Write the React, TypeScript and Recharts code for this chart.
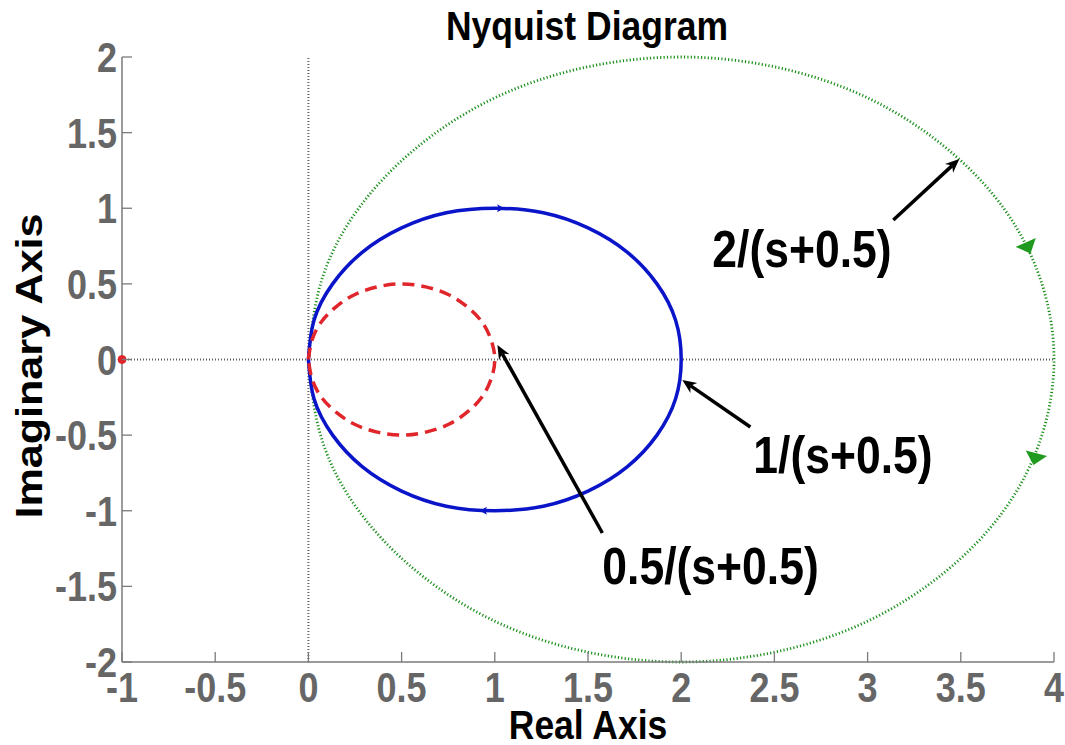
import React from "react";
import {
  LineChart,
  Line,
  XAxis,
  YAxis,
  ReferenceLine,
  ReferenceDot,
  Customized,
} from "recharts";

const X_TICKS = [-1, -0.5, 0, 0.5, 1, 1.5, 2, 2.5, 3, 3.5, 4];
const Y_TICKS = [-2, -1.5, -1, -0.5, 0, 0.5, 1, 1.5, 2];

// points, from w = -inf through w = 0 back to w = +inf
const halfGain = [
  [0, 0], [0.02, 0.13], [0.07, 0.25], [0.15, 0.35], [0.25, 0.43], [0.37, 0.48],
  [0.5, 0.5], [0.63, 0.48], [0.75, 0.43], [0.85, 0.35], [0.93, 0.25], [0.98, 0.13],
  [1, 0], [0.98, -0.13], [0.93, -0.25], [0.85, -0.35], [0.75, -0.43], [0.63, -0.48],
  [0.5, -0.5], [0.37, -0.48], [0.25, -0.43], [0.15, -0.35], [0.07, -0.25], [0.02, -0.13],
  [0, 0],
];

const unitGain = [
  [0, 0], [0.03, 0.26], [0.13, 0.5], [0.29, 0.71], [0.5, 0.87], [0.74, 0.97],
  [1, 1], [1.26, 0.97], [1.5, 0.87], [1.71, 0.71], [1.87, 0.5], [1.97, 0.26],
  [2, 0], [1.97, -0.26], [1.87, -0.5], [1.71, -0.71], [1.5, -0.87], [1.26, -0.97],
  [1, -1], [0.74, -0.97], [0.5, -0.87], [0.29, -0.71], [0.13, -0.5], [0.03, -0.26],
  [0, 0],
];

const doubleGain = [
  [0, 0], [0.07, 0.52], [0.27, 1], [0.59, 1.41], [1, 1.73], [1.48, 1.93],
  [2, 2], [2.52, 1.93], [3, 1.73], [3.41, 1.41], [3.73, 1], [3.93, 0.52],
  [4, 0], [3.93, -0.52], [3.73, -1], [3.41, -1.41], [3, -1.73], [2.52, -1.93],
  [2, -2], [1.48, -1.93], [1, -1.73], [0.59, -1.41], [0.27, -1], [0.07, -0.52],
  [0, 0],
];

const CRITICAL_POINT = { x: -1, y: 0 };

const LABELS = [
  { text: "2/(s+0.5)", x: 2.167, y: 0.612 },
  { text: "1/(s+0.5)", x: 2.387, y: -0.75 },
  { text: "0.5/(s+0.5)", x: 1.577, y: -1.481 },
];

const POINTERS = [
  { from: [3.138, 0.922], to: [3.492, 1.326] },
  { from: [2.371, -0.446], to: [2.006, -0.136] },
  { from: [1.577, -1.147], to: [1.014, 0.096] },
];

const GREEN_MARKS = [
  { from: [3.847, 0.777], to: [3.874, 0.701] },
  { from: [3.906, -0.618], to: [3.89, -0.697] },
];

const BLUE_MARKS = [
  { from: [0.99, 1.0], to: [1.05, 1.0] },
  { from: [0.98, -1.0], to: [0.92, -1.0] },
];

const toPoints = (arr: number[][]) => arr.map(([x, y]) => ({ x, y }));

const FRAME = "#7a7a7a";
const FONT = "'Liberation Sans', Arial, Helvetica, sans-serif";

function StretchText({ x, y, size, fill = "#000", anchor = "middle", sy = 1.15, children }: any) {
  return (
    <text
      transform={`translate(${x},${y}) scale(1,${sy})`}
      textAnchor={anchor}
      fontFamily={FONT}
      fontWeight={700}
      fontSize={size}
      fill={fill}
    >
      {children}
    </text>
  );
}

function BottomTick({ x, y, payload }: any) {
  return (
    <g>
      <line x1={x} y1={y} x2={x} y2={y - 10} stroke={FRAME} strokeWidth={1.3} />
      <StretchText x={x} y={y + 40} size={36} fill="#666" sy={1.17}>
        {payload.value}
      </StretchText>
    </g>
  );
}

function TopTick({ x, y }: any) {
  return <line x1={x} y1={y} x2={x} y2={y + 10} stroke={FRAME} strokeWidth={1.3} />;
}

function LeftTick({ x, y, payload }: any) {
  return (
    <g>
      <line x1={x} y1={y} x2={x + 10} y2={y} stroke={FRAME} strokeWidth={1.3} />
      <StretchText x={x - 5} y={y + 15} size={36} fill="#666" anchor="end" sy={1.17}>
        {payload.value}
      </StretchText>
    </g>
  );
}

function RightTick({ x, y }: any) {
  return <line x1={x} y1={y} x2={x - 10} y2={y} stroke={FRAME} strokeWidth={1.3} />;
}

function arrowShape(color: string, width: number, headLen: number, headHalf: number, withLine: boolean, notch: number) {
  return (props: any) => {
    const { x1, y1, x2, y2 } = props;
    const dx = x2 - x1;
    const dy = y2 - y1;
    const len = Math.hypot(dx, dy) || 1;
    const ux = dx / len;
    const uy = dy / len;
    const bx = x2 - ux * headLen;
    const by = y2 - uy * headLen;
    const nx = x2 - ux * headLen * notch;
    const ny = y2 - uy * headLen * notch;
    const pts = [
      `${x2},${y2}`,
      `${bx - uy * headHalf},${by + ux * headHalf}`,
      `${nx},${ny}`,
      `${bx + uy * headHalf},${by - ux * headHalf}`,
    ].join(" ");
    return (
      <g>
        {withLine && (
          <line x1={x1} y1={y1} x2={nx} y2={ny} stroke={color} strokeWidth={width} />
        )}
        <polygon points={pts} fill={color} />
      </g>
    );
  };
}

const pointerShape = arrowShape("#000", 3.5, 14, 6, true, 0.7);
const greenHead = arrowShape("#1f9a1f", 0, 12, 11, false, 1);
const blueHead = arrowShape("#0a14c8", 0, 7, 4, false, 0.8);

export default function App() {
  return (
    <div style={{ position: "absolute", left: 0, top: 0, background: "#fff" }}>
      <LineChart
        width={1065}
        height={745}
        margin={{ top: 57, right: 11, bottom: 43, left: 22 }}
      >
        <XAxis
          xAxisId={0}
          type="number"
          dataKey="x"
          domain={[-1, 4]}
          ticks={X_TICKS}
          interval={0}
          height={40}
          tickSize={0}
          tickMargin={0}
          tickLine={false}
          axisLine={{ stroke: FRAME, strokeWidth: 1.5 }}
          tick={<BottomTick />}
        />
        <XAxis
          xAxisId="top"
          orientation="top"
          type="number"
          dataKey="x"
          domain={[-1, 4]}
          ticks={X_TICKS}
          interval={0}
          height={0}
          tickSize={0}
          tickMargin={0}
          tickLine={false}
          axisLine={{ stroke: FRAME, strokeWidth: 1.5 }}
          tick={<TopTick />}
        />
        <YAxis
          yAxisId={0}
          type="number"
          domain={[-2, 2]}
          ticks={Y_TICKS}
          interval={0}
          width={100}
          tickSize={0}
          tickMargin={0}
          tickLine={false}
          axisLine={{ stroke: FRAME, strokeWidth: 1.5 }}
          tick={<LeftTick />}
        />
        <YAxis
          yAxisId="right"
          orientation="right"
          type="number"
          domain={[-2, 2]}
          ticks={Y_TICKS}
          interval={0}
          width={0}
          tickSize={0}
          tickMargin={0}
          tickLine={false}
          axisLine={{ stroke: FRAME, strokeWidth: 1.5 }}
          tick={<RightTick />}
        />

        <ReferenceLine x={0} stroke="#666" strokeWidth={2} strokeDasharray="1 2" />
        <ReferenceLine y={0} stroke="#666" strokeWidth={2} strokeDasharray="1 2" />

        <Line
          data={toPoints(doubleGain)}
          dataKey="y"
          type="natural"
          stroke="#1a8f1a"
          strokeWidth={2.8}
          strokeDasharray="1.2 2.2"
          dot={false}
          activeDot={false}
          isAnimationActive={false}
        />
        <Line
          data={toPoints(unitGain)}
          dataKey="y"
          type="natural"
          stroke="#0a14c8"
          strokeWidth={3.5}
          dot={false}
          activeDot={false}
          isAnimationActive={false}
        />
        <Line
          data={toPoints(halfGain)}
          dataKey="y"
          type="natural"
          stroke="#e0262a"
          strokeWidth={3.5}
          strokeDasharray="12 7"
          dot={false}
          activeDot={false}
          isAnimationActive={false}
        />

        {GREEN_MARKS.map((m, i) => (
          <ReferenceLine
            key={`g${i}`}
            segment={[{ x: m.from[0], y: m.from[1] }, { x: m.to[0], y: m.to[1] }]}
            shape={greenHead}
          />
        ))}
        {BLUE_MARKS.map((m, i) => (
          <ReferenceLine
            key={`b${i}`}
            segment={[{ x: m.from[0], y: m.from[1] }, { x: m.to[0], y: m.to[1] }]}
            shape={blueHead}
          />
        ))}
        {POINTERS.map((p, i) => (
          <ReferenceLine
            key={`p${i}`}
            segment={[{ x: p.from[0], y: p.from[1] }, { x: p.to[0], y: p.to[1] }]}
            shape={pointerShape}
          />
        ))}

        <ReferenceDot
          x={CRITICAL_POINT.x}
          y={CRITICAL_POINT.y}
          r={4}
          fill="#e0262a"
          stroke="#e0262a"
          ifOverflow="visible"
        />

        {LABELS.map((l) => (
          <ReferenceDot
            key={l.text}
            x={l.x}
            y={l.y}
            r={0}
            shape={(props: any) => (
              <StretchText x={props.cx} y={props.cy} size={44.5} anchor="start" sy={1.18}>
                {l.text}
              </StretchText>
            )}
          />
        ))}

        <Customized
          component={() => (
            <g>
              <StretchText x={587} y={40} size={35.5} sy={1.12}>
                Nyquist Diagram
              </StretchText>
              <StretchText x={588} y={739} size={35.5} sy={1.15}>
                Real Axis
              </StretchText>
              <text
                transform="translate(42,366) rotate(-90) scale(1.15,1)"
                textAnchor="middle"
                fontFamily={FONT}
                fontWeight={700}
                fontSize={37.5}
                fill="#000"
              >
                Imaginary Axis
              </text>
            </g>
          )}
        />
      </LineChart>
    </div>
  );
}
